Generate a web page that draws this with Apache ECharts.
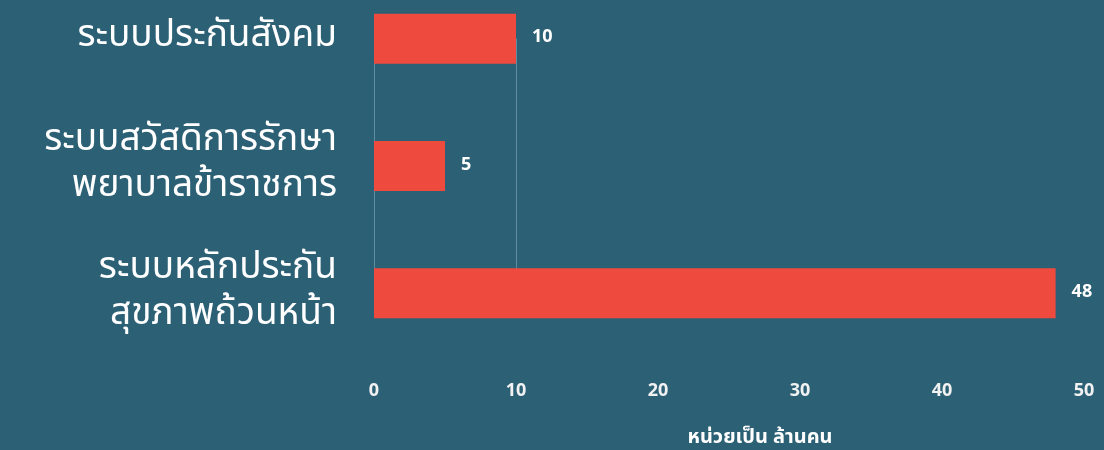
<!DOCTYPE html>
<html>
<head>
<meta charset="utf-8">
<script src="https://cdn.jsdelivr.net/npm/echarts@6/dist/echarts.min.js"></script>
<style>
  html, body { margin: 0; padding: 0; background: #2c6075; }
  #bars { width: 1104px; height: 450px; }
</style>
</head>
<body>
<div id="bars"></div>
<script>
// categories top to bottom
var categories = [
  "ระบบประกันสังคม",
  "ระบบสวัสดิการรักษา\nพยาบาลข้าราชการ",
  "ระบบหลักประกัน\nสุขภาพถ้วนหน้า"
];
var values = [10, 5, 48];
var axisTicks = [0, 10, 20, 30, 40, 50];
var unitLabel = "หน่วยเป็น ล้านคน";
var guideValues = [0, 10];

var fontFamily = "Tahoma, 'Noto Sans Thai', 'Noto Sans', sans-serif";
var myChart = echarts.init(document.getElementById("bars"));

var option = {
  backgroundColor: "#2c6075",
  animation: false,
  grid: {
    left: 374,
    right: 20,
    top: -25,
    bottom: 93,
    containLabel: false,
    outerBoundsMode: "none"
  },
  xAxis: {
    type: "value",
    min: axisTicks[0],
    max: axisTicks[axisTicks.length - 1],
    interval: 10,
    axisLine: { show: false },
    axisTick: { show: false },
    splitLine: { show: false },
    axisLabel: {
      margin: 26,
      fontSize: 18,
      fontWeight: "bold",
      color: "#f2f2f2",
      fontFamily: fontFamily
    },
    name: unitLabel,
    nameLocation: "middle",
    nameGap: 72,
    nameTextStyle: {
      fontSize: 20,
      fontWeight: "bold",
      color: "#ffffff",
      fontFamily: fontFamily,
      padding: [0, 0, 0, 62]
    }
  },
  yAxis: {
    type: "category",
    inverse: true,
    data: categories,
    axisLine: { show: false },
    axisTick: { show: false },
    axisLabel: {
      margin: 37,
      fontSize: 37,
      lineHeight: 46,
      color: "#ffffff",
      align: "right",
      fontFamily: fontFamily
    }
  },
  series: [
    {
      name: "ล้านคน",
      type: "bar",
      data: values,
      barWidth: 50,
      itemStyle: { color: "#ef4a3e" },
      label: {
        show: true,
        position: "right",
        distance: 16,
        fontSize: 18,
        fontWeight: "bold",
        color: "#ffffff",
        fontFamily: fontFamily
      },
      markLine: {
        silent: true,
        symbol: "none",
        z: 1,
        label: { show: false },
        lineStyle: { color: "rgba(160,195,210,0.45)", width: 1, type: "solid" },
        data: guideValues.map(function (v) {
          return [
            { coord: [v, categories[0]] },
            { coord: [v, categories[2]] }
          ];
        })
      },
      z: 3
    }
  ]
};

myChart.setOption(option);
</script>
</body>
</html>
